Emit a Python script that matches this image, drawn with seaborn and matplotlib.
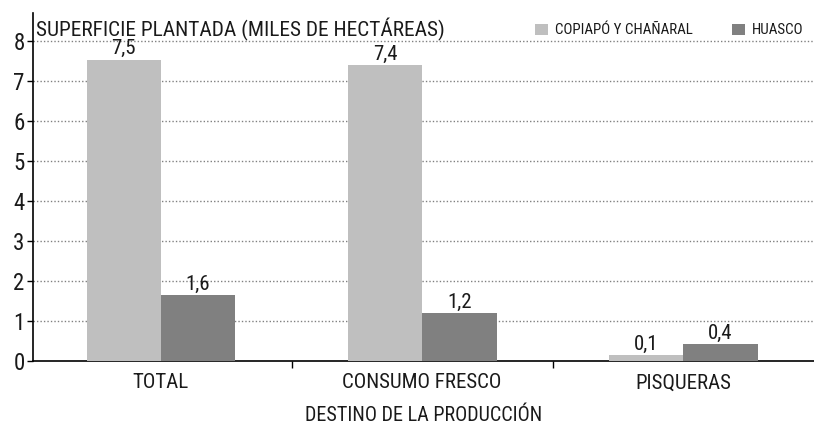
import pandas as pd
import matplotlib.pyplot as plt
import seaborn as sns
from matplotlib.ticker import FixedLocator

# ── Data ──────────────────────────────────────────────────────
categories = ['TOTAL', 'CONSUMO FRESCO', 'PISQUERAS']
series = ['COPIAPÓ Y CHAÑARAL', 'HUASCO']
copiapo = [7.53, 7.4, 0.14]
huasco = [1.64, 1.2, 0.42]
colors = ['#bfbfbf', '#808080']

df = pd.DataFrame({
    'destino': categories * 2,
    'zona': [series[0]] * 3 + [series[1]] * 3,
    'valor': copiapo + huasco,
})

sns.set_theme(style='white')
plt.rcParams['font.family'] = ['Roboto Condensed', 'DejaVu Sans']
plt.rcParams['text.color'] = '#1a1a1a'

fig = plt.figure(figsize=(8.14, 4.26), dpi=100)
ax = fig.add_axes([0.0405, 0.1526, 0.9595, 0.817])

sns.barplot(data=df, x='destino', y='valor', hue='zona', order=categories,
            hue_order=series, palette=colors, width=0.57, saturation=1,
            linewidth=0, ax=ax, zorder=3)

for cont in ax.containers:
    ax.bar_label(cont, labels=[f'{v:.1f}'.replace('.', ',') for v in cont.datavalues],
                 padding=1, fontsize=15, color='#1a1a1a')

ax.set_xlim(-0.49, 2.5)
ax.set_ylim(0, 8.7)
ax.set_yticks(range(0, 9))
ax.tick_params(axis='y', labelsize=16.5, length=4, width=1, color='black', pad=2,
               left=True, labelcolor='#1a1a1a')
ax.tick_params(axis='x', which='major', length=0, labelsize=15, pad=9, labelcolor='#1a1a1a')
ax.xaxis.set_minor_locator(FixedLocator([0.5, 1.5]))
ax.tick_params(axis='x', which='minor', length=5, width=1, color='black', bottom=True)

for y in range(1, 9):
    ax.axhline(y, color='#808080', lw=1, ls=(0, (1, 1.5)), zorder=1)

sns.despine(ax=ax)
ax.spines['left'].set_color('black')
ax.spines['bottom'].set_color('black')
ax.spines['left'].set_linewidth(1.2)
ax.spines['bottom'].set_linewidth(1.2)

ax.set_ylabel('')
ax.set_xlabel('DESTINO DE LA PRODUCCIÓN', fontsize=14.5, labelpad=10, color='#1a1a1a')
ax.text(0.004, 0.986, 'SUPERFICIE PLANTADA (MILES DE HECTÁREAS)', transform=ax.transAxes,
        fontsize=15.4, va='top', ha='left')

ax.legend(title=None, ncol=2, frameon=False, loc='upper right',
          bbox_to_anchor=(1.0, 1.0), fontsize=10.8, handlelength=0.9,
          handleheight=0.8, handletextpad=0.45, columnspacing=2.6,
          borderaxespad=0.3)

fig.savefig('out.png', dpi=100)
